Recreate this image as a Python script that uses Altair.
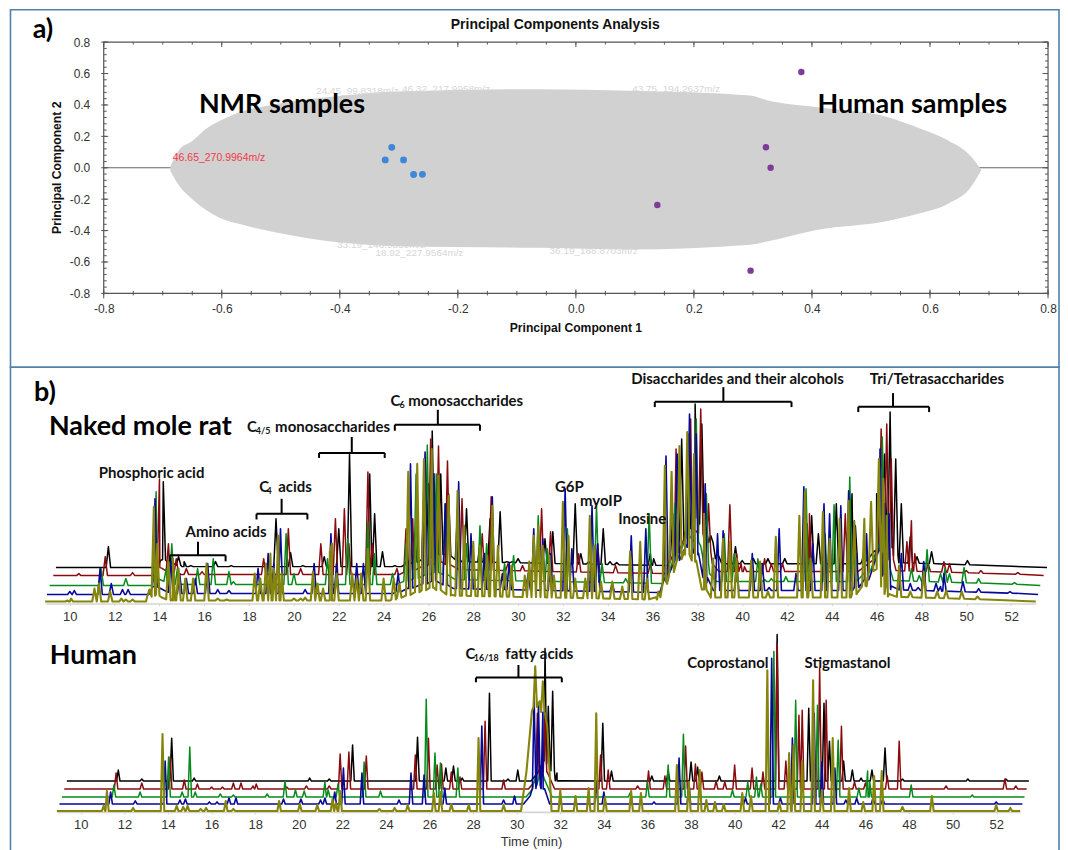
import altair as alt
import numpy as np
import pandas as pd

FONT_UI = "Liberation Sans"
FONT_LABEL = "Lato"
FRAME = "#4f81ad"

# ---------- PCA ----------
CLOUD_X = [-.687,-.673,-.65,-.626,-.603,-.568,-.51,-.393,-.305,-.06,.093,.295,.324,.41,.526,.583,.63,.67,.687]
CLOUD_UP = [.01,.11,.17,.25,.30,.355,.405,.46,.485,.50,.49,.46,.43,.385,.325,.25,.175,.07,-.015]
CLOUD_LO = [-.02,-.11,-.2,-.27,-.32,-.36,-.41,-.478,-.5,-.51,-.52,-.49,-.47,-.395,-.34,-.29,-.23,-.12,-.015]
FRINGE = [("24.45_99.8318m/z",-.37,.49),("46.32_217.9958m/z",-.22,.5),("18.92_227.9564m/z",-.265,-.545),
          ("33.19_146.9850m/z",-.33,-.495),("43.75_194.2637m/z",.17,.5),("36.19_188.8703m/z",.03,-.53)]
NMR_PC1 = [-.323,-.312,-.292,-.275,-.26]
NMR_PC2 = [.05,.13,.05,-.043,-.042]
HUMAN_PC1 = [.138,.296,.322,.33,.382]
HUMAN_PC2 = [-.237,-.655,.13,.0,.61]
MAJOR = [-.8,-.6,-.4,-.2,0,.2,.4,.6,.8]
MINOR_X = [round(-.8+.05*i,2) for i in range(33)]
MINOR_Y = [round(-.8+.04*i,2) for i in range(41)]

# ---------- chromatograms: (apparent time, top height above axis) ----------
NMR_BLACK = [(11.72,57),(14.17,122),(14.5,42),(14.85,47),(15.1,42),(15.4,38),(16.5,42),(17.2,38),(19.2,85),(19.85,51),(20.4,38),(21.35,47),(22.0,75),(22.48,150),(23.38,130),(23.6,90),(23.95,52),(24.5,38),(25.05,45),(25.4,70),(25.8,100),(26.0,120),(26.17,173),(26.55,130),(26.9,110),(27.3,95),(27.7,95),(28.3,60),(28.75,85),(29.2,92),(29.5,42),(29.75,42),(30,45),(31.2,65),(31.55,72),(32.55,100),(32.8,50),(33.15,42),(33.8,75),(34.1,42),(34.4,41),(35.9,50),(36.05,45),(36.9,90),(37.3,165),(37.6,130),(37.9,200),(38.2,180),(38.6,68),(38.9,50),(39.7,57),(40,43),(40.5,45),(41.15,45),(41.9,45),(42.25,40),(43.1,88),(43.4,70),(44.2,100),(44.9,110),(45.05,78),(45.45,55),(46.0,110),(46.35,150),(46.6,192),(46.85,145),(47.1,100),(47.5,67),(47.8,47),(48.45,52),(49,40),(49.3,39),(50.05,43)]
NMR_RED = [(10.4,30),(11.58,47),(12.8,31),(14.0,125),(14.4,60),(14.75,45),(15.2,35),(15.9,32),(18.65,45),(19.75,75),(20.3,35),(21.2,60),(21.85,85),(22.25,95),(22.45,60),(23.3,132),(23.5,60),(24.6,35),(25.0,75),(25.3,85),(25.8,120),(26.1,165),(26.45,158),(26.85,143),(27.5,105),(28.4,70),(28.8,107),(29.55,40),(30.2,38),(31.05,95),(31.45,72),(32.2,60),(32.7,50),(33.55,60),(34.35,38),(35.9,40),(37.05,155),(37.7,185),(38.15,195),(38.5,100),(39.45,99),(39.75,50),(39.95,40),(40.1,37),(41.0,45),(41.3,40),(41.8,40),(42.9,80),(43.0,90),(44.6,90),(45.0,83),(46.2,175),(46.45,180),(46.65,145),(47.55,83),(47.35,62),(47.7,50),(48.3,40),(49.0,42),(49.25,40),(50.0,33),(50.65,33),(52.3,31)]
NMR_GREEN = [(11.4,35),(12.5,25),(13.85,112),(14.3,35),(14.55,60),(14.8,35),(15.7,35),(16.4,45),(17.1,32),(17.3,22),(18.5,20),(19.65,70),(20.0,30),(21.5,45),(22.4,65),(23.3,82),(23.6,50),(24.4,30),(25.0,60),(25.45,130),(25.95,159),(26.35,130),(26.75,100),(27.3,95),(27.7,60),(28.3,78),(28.6,60),(29.4,40),(29.8,48),(30.9,88),(31.3,55),(32.2,75),(33.5,98),(33.75,40),(34.8,25),(35.85,90),(37,100),(37.6,170),(37.95,185),(38.4,110),(39.2,70),(39.65,50),(40.7,45),(41.0,24),(41.3,25),(41.95,27),(42.85,115),(43.7,70),(44.1,99),(44.8,127),(45.0,70),(45.55,55),(46.25,167),(46.5,90),(47.55,35),(47.9,28),(48.25,54),(48.85,30),(49.05,35),(49.25,30),(49.9,36),(50.55,25),(52.15,21)]
NMR_BLUE = [(10.0,12),(10.2,13),(11.35,35),(11.85,20),(12.35,14),(12.6,14),(13.8,105),(14.5,45),(14.9,30),(15.2,25),(15.6,25),(16.15,40),(16.6,14),(17.1,13),(18.4,35),(18.85,50),(19.1,40),(19.4,75),(20.5,14),(20.9,40),(21.65,70),(21.9,40),(22.8,40),(23.1,40),(24.65,30),(25.2,140),(25.85,152),(26.25,130),(26.75,100),(27.35,122),(27.9,70),(28.5,50),(28.85,107),(29.3,30),(29.6,40),(30.45,30),(30.7,75),(31.1,65),(31.45,50),(32.1,115),(32.4,55),(33.3,98),(33.55,60),(34.2,20),(35.05,68),(35.7,75),(36.6,148),(37.1,150),(37.65,190),(37.95,170),(38.35,120),(38.9,70),(39.15,73),(39.75,40),(40.45,50),(40.9,40),(41.2,16),(41.65,75),(42.4,30),(42.75,117),(43.15,60),(43.65,100),(43.9,90),(44.4,98),(44.75,113),(45.1,50),(45.55,70),(46.15,155),(46.35,100),(46.55,90),(47.1,50),(47.5,20),(47.85,16),(48.1,42),(48.65,20),(48.85,17),(49.0,30),(49.85,22),(50.55,15),(51.95,12)]
NMR_OLIVE = [(9.9,3),(10.05,5),(11.1,15),(11.3,20),(11.8,12),(12.3,5),(12.5,4),(12.8,4),(13.55,14),(13.75,97),(13.9,60),(14.4,43),(14.6,45),(14.85,35),(15.15,25),(15.5,25),(16.1,40),(16.6,5),(17.0,4),(18.25,30),(18.5,25),(18.75,40),(18.95,50),(19.1,35),(19.3,68),(19.45,30),(20.0,5),(20.3,5),(20.5,6),(20.85,32),(21.05,20),(21.3,15),(21.6,52),(21.7,60),(21.9,30),(22.6,30),(22.8,25),(23.0,30),(23.3,55),(24.0,25),(24.45,25),(24.7,20),(25.1,132),(25.5,140),(25.8,145),(26.15,155),(26.45,128),(26.9,108),(27.3,113),(27.6,78),(28,62),(28.3,58),(28.6,48),(28.85,98),(29.1,58),(29.4,32),(29.7,38),(30.3,28),(30.5,42),(30.7,68),(30.9,78),(31.1,58),(31.4,48),(31.6,28),(32,102),(32.25,68),(32.55,25),(33,25),(33.2,88),(33.4,58),(33.7,22),(34.2,22),(34.65,17),(35,52),(35.45,62),(35.75,25),(36.25,12),(36.55,138),(36.85,132),(37.2,158),(37.55,172),(37.85,150),(38.3,90),(38.7,45),(39.15,65),(39.45,62),(39.75,45),(40.4,43),(40.8,42),(41.15,12),(41.5,67),(42.55,88),(42.8,112),(43.05,45),(43.6,92),(43.9,65),(44.35,85),(44.75,103),(45,82),(45.45,85),(45.75,102),(46.1,145),(46.3,125),(46.45,88),(47,38),(47.5,12),(48.1,32),(48.7,12),(49.1,13),(49.8,12),(50.5,7)]
NMR_FLOOR_T = [8.5,13.4,13.65,14.1,14.6,24.3,25,26.2,27,36.2,36.6,37.4,37.9,38.3,38.6,44.8,45.5,46.0,46.2,46.5,54]
NMR_FLOOR_H = [0,0,8,4,1,1,6,14,6,2,20,50,40,12,4,4,16,45,20,5,0]
NMR_BASE = [36,28,18,9,2]
NMR_SPAN = [(9.38,53.6),(9.26,53.45),(9.1,53.3),(8.98,53.2),(8.9,53.1)]

H_BLACK = [(11.72,42),(12.8,33),(14.17,74),(15.2,34),(20.5,34),(21.4,33),(22.47,67),(25.45,75),(26.75,44),(27.1,46),(27.5,34),(28.75,119),(29.6,33),(30.05,42),(31.3,164),(31.45,106),(31.65,121),(31.85,39),(33.95,89),(34.35,41),(36.2,36),(36.95,41),(38.0,50),(38.3,45),(39.3,36),(41.95,178),(43.4,104),(44.1,109),(44.35,71),(45.0,51),(45.4,42),(45.8,34),(46.3,42),(46.9,64),(47.7,33),(50.7,33),(52.45,33)]
H_RED = [(11.62,39),(12.8,29),(14.1,55),(14.75,32),(15.35,28),(16.0,25),(16.5,25),(17.0,29),(17.35,29),(17.9,26),(18.05,28),(19.45,25),(20.35,26),(21.4,26),(21.9,58),(22.3,60),(23.1,56),(25.35,57),(25.95,74),(26.35,47),(26.55,48),(27,40),(27.4,35),(28.55,91),(29.4,32),(30.95,99),(31.3,96),(33.85,57),(34.2,42),(35.55,26),(36.05,41),(36.8,36),(37.75,66),(38.2,48),(38.5,40),(39.15,31),(39.55,30),(40,47),(40.8,44),(41.3,40),(41.95,169),(42.35,51),(42.95,97),(43.1,102),(43.9,144),(44.2,112),(44.9,86),(45.5,30),(46,29),(47.0,36),(47.55,71),(49.7,26),(52.4,33),(52.9,26)]
H_GREEN = [(11.52,27),(12.72,20),(14.03,55),(14.65,20),(15.0,65),(15.25,20),(16.4,18),(17.0,17),(18.55,18),(19.37,31),(19.85,22),(20.25,21),(21.2,30),(21.35,22),(21.8,28),(23.0,50),(23.75,21),(25.85,113),(26.25,59),(26.5,49),(27.3,44),(30.85,34),(31.2,38),(35.2,19),(36,30),(36.95,47),(37.65,78),(39.9,22),(40.6,30),(41,35),(41.2,28),(41.8,161),(42.8,112),(43.8,107),(44.75,72),(45.7,24),(46.1,41),(46.2,30),(48.1,27),(50.9,17)]
H_BLUE = [(11.37,20),(12.5,11),(13.87,51),(14.55,12),(14.8,13),(15.9,10),(16.25,10),(16.8,14),(17.12,14),(19.3,13),(20.1,13),(21.0,12),(21.2,14),(21.65,20),(22.05,44),(22.9,39),(24.6,12),(25.15,39),(25.75,37),(26.7,24),(28.4,86),(29.4,12),(29.9,16),(30.8,116),(31.0,108),(31.2,100),(33.65,30),(34,20),(36.3,10),(37.45,54),(37.9,30),(40.5,14),(41.7,154),(42.1,14),(42.65,74),(43.65,99),(44.0,50),(44.6,44),(45.1,12),(45.6,14),(46.35,14),(46.8,13),(52,10)]
H_OLIVE = [(11.05,6),(11.2,21),(12.4,4),(13.75,78),(14.4,6),(14.7,5),(14.9,6),(15.5,3),(15.75,4),(16.65,11),(17,3),(19.1,11),(20.05,8),(20.85,7),(21.55,13),(21.7,9),(21.9,21),(23.7,3),(24.4,4),(25.0,7),(26.2,19),(26.5,20),(27,8),(27.8,7),(28.25,74),(29.4,7),(30.85,146),(31.2,131),(32.0,22),(32.7,16),(33.3,24),(33.65,99),(34.05,15),(35.25,21),(35.7,19),(37.35,47),(37.9,30),(38.4,42),(38.7,12),(39.1,10),(39.5,8),(40.35,19),(40.75,16),(41.5,142),(42.05,10),(42.5,59),(42.7,67),(43.1,51),(43.6,132),(44,22),(44.5,74),(45.25,24),(45.9,10),(46.4,36),(46.75,41),(47.7,5),(49.05,16),(52,7),(52.65,4)]
H_FLOOR_T = [8.5,30.2,30.5,30.8,31.1,31.4,54]
H_FLOOR_H = [0,0,8,20,15,0,0]
H_OLIVE_FLOOR_T = [8.5,30.2,30.45,30.7,31.05,31.4,31.6,54]
H_OLIVE_FLOOR_H = [0,0,40,100,110,85,0,0]
H_BASE = [31,23,15,8,1]
H_SPAN = [(9.36,53.5),(9.24,53.4),(9.13,53.3),(9.02,53.2),(8.9,53.1)]

COLORS = ["#000000","#8a0b0f","#078a1c","#07079a","#85850c"]
WIDTHS = [1.5,1.5,1.5,1.6,2.1]

NMR_BRACKETS = [(14.46,16.95,48.3,42.3,15.72,62),(18.33,20.6,90,84.3,19.45,105),(21.12,24.05,151,146,22.58,167),
                (24.5,28.3,179.3,173.3,26.42,194.3),(36.1,42.2,202.3,197,39.16,217),(45.18,48.34,197.3,192,46.73,211)]
H_BRACKETS = [(28.13,32.07,134.7,130,30.08,147.3)]
NMR_LABELS = [("Phosphoric acid",13.65,131,"center"),("Amino acids",16.97,72,"center"),
              ("acids",19.3,117,"left"),("C",18.45,117,"left"),
              ("C",17.9,177,"left"),("monosaccharides",19.16,177,"left"),
              ("C",24.31,203,"left"),("monosaccharides",25.1,203,"left"),
              ("Disaccharides and their alcohols",39.79,225,"center"),("Tri/Tetrasaccharides",48.69,225,"center"),
              ("G6P",32.29,117,"center"),("myoIP",33.7,103,"center"),("Inosine",35.54,85,"center")]
NMR_SUBS = [("4",18.77,113),("4/5",18.3,173),("6",24.71,199)]
NMR_BIG = [("Naked mole rat",9.07,177)]
H_LABELS = [("C",27.65,158,"left"),("fatty acids",29.48,158,"left"),
            ("Coprostanol",39.69,149,"center"),("Stigmastanol",45.18,149,"center")]
H_SUBS = [("16/18",28.03,154)]
H_BIG = [("Human",8.58,156)]

W = 1051.5
LABEL_EXPR = "replace(format(datum.value, '.1f'), '\u2212', '-')"


def frame(x2, y1, y2):
    return alt.Chart(pd.DataFrame({"a": [0]})).mark_rect(
        fillOpacity=0, stroke=FRAME, strokeWidth=1.6
    ).encode(x=alt.value(0), x2=alt.value(x2), y=alt.value(y1), y2=alt.value(y2))


# ---------- panel a ----------
xA = alt.Scale(domain=[-.8, .8], range=[93.5, 1040.5])
yA = alt.Scale(domain=[-.8, .8], range=[252, 0])
X = alt.X("x:Q", scale=xA, axis=alt.Axis(values=MAJOR, labelExpr=LABEL_EXPR, title=None, domain=False, ticks=False,
          grid=False, labelFont=FONT_UI, labelFontSize=12, labelColor="#333333", labelPadding=10, labelFlush=False))
Y = alt.Y("y:Q", scale=yA, axis=alt.Axis(values=MAJOR, labelExpr=LABEL_EXPR, title=None, domain=False, ticks=False,
          grid=False, labelFont=FONT_UI, labelFontSize=12, labelColor="#333333", labelPadding=14, offset=-93.5, labelFlush=False))

cloud = alt.Chart(pd.DataFrame({"x": CLOUD_X, "y": CLOUD_UP, "y2": CLOUD_LO})).mark_area(
    color="#d1d1d1", interpolate="monotone").encode(x=X, y=Y, y2="y2:Q")
fringe = alt.Chart(pd.DataFrame(FRINGE, columns=["t", "x", "y"])).mark_text(
    font=FONT_UI, fontSize=10, color="#d6d6d6").encode(x=X, y=Y, text="t:N")
hline = alt.Chart(pd.DataFrame({"x": [-.8], "x2": [.8], "y": [0]})).mark_rule(color="#666666", strokeWidth=1.2).encode(
    x=X, x2="x2:Q", y=Y)
box = alt.Chart(pd.DataFrame({"x": [-.8], "x2": [.8], "y": [-.8], "y2": [.8]})).mark_rect(
    fillOpacity=0, stroke="#555555", strokeWidth=1.2).encode(x=X, x2="x2:Q", y=Y, y2="y2:Q")


def xticks(vals, y1, y2, c="#555555"):
    return alt.Chart(pd.DataFrame({"x": vals})).mark_rule(color=c, strokeWidth=1).encode(
        x=X, y=alt.value(y1), y2=alt.value(y2))


def yticks(vals, x1, x2, c="#555555"):
    return alt.Chart(pd.DataFrame({"y": vals})).mark_rule(color=c, strokeWidth=1).encode(
        y=Y, x=alt.value(x1), x2=alt.value(x2))


ticksA = [xticks(MAJOR, 248, 257), xticks(MINOR_X, 249.5, 254), xticks(MAJOR, 0, 5), xticks(MINOR_X, 0, 2.5),
          yticks(MAJOR, 91, 98), yticks(MINOR_Y, 93.5, 96.5), yticks(MINOR_Y, 1037.5, 1040.5), yticks(MAJOR, 1035, 1040.5)]
nmr_pts = alt.Chart(pd.DataFrame({"x": NMR_PC1, "y": NMR_PC2})).mark_circle(size=48, color="#3f87d8", opacity=1).encode(x=X, y=Y)
hum_pts = alt.Chart(pd.DataFrame({"x": HUMAN_PC1, "y": HUMAN_PC2})).mark_circle(size=42, color="#7f3b98", opacity=1).encode(x=X, y=Y)
red = alt.Chart(pd.DataFrame({"x": [-.683], "y": [.06], "t": ["46.65_270.9964m/z"]})).mark_text(
    font=FONT_UI, fontSize=10.5, color="#f23a46", align="left").encode(x=X, y=Y, text="t:N")
bigA = alt.Chart(pd.DataFrame({"x": [-.498, .57], "y": [.397, .397], "t": ["NMR samples", "Human samples"]})).mark_text(
    font=FONT_LABEL, fontWeight="bold", fontSize=27, color="#000000").encode(x=X, y=Y, text="t:N")
tagA = alt.Chart(pd.DataFrame({"x": [-.903], "y": [.875], "t": ["a)"]})).mark_text(
    font=FONT_LABEL, fontWeight="bold", fontSize=27, color="#000000").encode(x=X, y=Y, text="t:N")
headA = alt.Chart(pd.DataFrame({"x": [-.035], "y": [.911], "t": ["Principal Components Analysis"]})).mark_text(
    font=FONT_UI, fontWeight="bold", fontSize=14, color="#111111").encode(x=X, y=Y, text="t:N")
footA = alt.Chart(pd.DataFrame({"x": [0], "y": [-1.02], "t": ["Principal Component 1"]})).mark_text(
    font=FONT_UI, fontWeight="bold", fontSize=12.2, color="#111111").encode(x=X, y=Y, text="t:N")
titleY = alt.Chart(pd.DataFrame({"x": [-.88], "y": [0], "t": ["Principal Component 2"]})).mark_text(
    font=FONT_UI, fontWeight="bold", fontSize=12.2, color="#111111", angle=270).encode(x=X, y=Y, text="t:N")

panel_a = alt.layer(frame(W, -32.5, 326), hline, cloud, fringe, *ticksA, box, nmr_pts, hum_pts, red, bigA, tagA, headA, footA, titleY).properties(
    width=W, height=252)


# ---------- chromatogram panels ----------
def trace_points(peaks, base, span, shift, floor_t, floor_h, w):
    rows = [(span[0], base), (span[1], base)]
    for ft, fh in zip(floor_t, floor_h):
        if span[0] < ft + shift < span[1]:
            rows.append((ft + shift, base + fh))
    for t, top in peaks:
        foot = base + float(np.interp(t - shift, floor_t, floor_h))
        rows += [(t - w, foot), (t, max(top, foot)), (t + w, foot)]
    rows.sort()
    return pd.DataFrame(rows, columns=["t", "h"])


def panel(traces, bases, spans, shift, floors, w, t10, t52, height, labels, subs, big, brackets, extra, fsize):
    per = (t52 - t10) / 42
    dom = [8.9, 53.1]
    rng = [t10 + (d - 10) * per for d in dom]
    XS = alt.X("t:Q", scale=alt.Scale(domain=dom, range=rng), axis=alt.Axis(
        values=list(range(10, 54, 2)), format="d", title=None, grid=False, domainColor="#d5d5d5", domainWidth=1.6,
        tickColor="#cfcfcf", tickSize=2, labelFont=FONT_UI, labelFontSize=13, labelColor="#333333", labelPadding=5, labelFlush=False))
    YS = alt.Y("h:Q", scale=alt.Scale(domain=[0, height], range=[height, 0]), axis=None)
    layers = []
    for i, peaks in enumerate(traces):
        df = trace_points(peaks, bases[i], spans[i], shift * (4 - i), floors[i][0], floors[i][1], w)
        layers.append(alt.Chart(df).mark_line(color=COLORS[i], strokeWidth=WIDTHS[i], strokeJoin="round").encode(
            x=XS, y=YS, order="t:Q"))
    segs = []
    for t0, t1, hb, foot, stem, top in brackets:
        segs += [(t0, t1, hb, hb), (t0, t0, hb, foot), (t1, t1, hb, foot), (stem, stem, hb, top)]
    br = pd.DataFrame(segs, columns=["t", "t2", "h", "h2"])
    layers.append(alt.Chart(br).mark_rule(color="#000000", strokeWidth=2).encode(x=XS, x2="t2:Q", y=YS, y2="h2:Q"))
    lab = pd.DataFrame(labels, columns=["s", "t", "h", "al"])
    for al in ["left", "center"]:
        layers.append(alt.Chart(lab[lab.al == al]).mark_text(
            font=FONT_LABEL, fontWeight="bold", fontSize=fsize, align=al, color="#111111").encode(x=XS, y=YS, text="s:N"))
    layers.append(alt.Chart(pd.DataFrame(subs, columns=["s", "t", "h"])).mark_text(
        font=FONT_LABEL, fontWeight="bold", fontSize=9, align="left", color="#111111").encode(x=XS, y=YS, text="s:N"))
    layers.append(alt.Chart(pd.DataFrame(big, columns=["s", "t", "h"])).mark_text(
        font=FONT_LABEL, fontWeight="bold", fontSize=27, align="left", color="#000000").encode(x=XS, y=YS, text="s:N"))
    layers += extra(XS, YS)
    return layers


def extra_b(XS, YS):
    tag = alt.Chart(pd.DataFrame({"t": [8.4], "h": [211], "s": ["b)"]})).mark_text(
        font=FONT_LABEL, fontWeight="bold", fontSize=27, align="left", color="#000000").encode(x=XS, y=YS, text="s:N")
    return [tag]


def extra_c(XS, YS):
    tag = alt.Chart(pd.DataFrame({"t": [30.68], "h": [-30], "s": ["Time (min)"]})).mark_text(
        font=FONT_UI, fontSize=13, color="#333333").encode(x=XS, y=YS, text="s:N")
    return [tag]


nmr_floors = [(NMR_FLOOR_T, NMR_FLOOR_H)] * 5
h_floors = [(H_FLOOR_T, H_FLOOR_H)] * 4 + [(H_OLIVE_FLOOR_T, H_OLIVE_FLOOR_H)]

layers_b = panel([NMR_BLACK, NMR_RED, NMR_GREEN, NMR_BLUE, NMR_OLIVE], NMR_BASE, NMR_SPAN, .122, nmr_floors, .1,
                 59.5, 1003.5, 276, NMR_LABELS, NMR_SUBS, NMR_BIG, NMR_BRACKETS, extra_b, 15)
panel_b = alt.layer(frame(W, 39, 532), *layers_b).properties(width=W, height=276)

layers_c = panel([H_BLACK, H_RED, H_GREEN, H_BLUE, H_OLIVE], H_BASE, H_SPAN, .114, h_floors, .08,
                 70.5, 988.5, 174, H_LABELS, H_SUBS, H_BIG, H_BRACKETS, extra_c, 15)
panel_c = alt.layer(*layers_c).properties(width=W, height=174)

chart = alt.vconcat(panel_a, panel_b, panel_c, spacing=35, bounds="flush").properties(
    padding={"left": 1.5, "top": -1, "right": 0, "bottom": 0}
).configure_view(stroke=None)

chart.save("out.html", embed_options={"renderer": "svg", "actions": False})
